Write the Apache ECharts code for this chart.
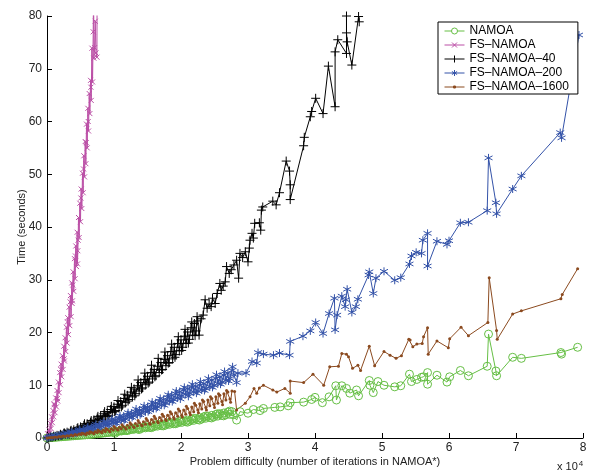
<!DOCTYPE html>
<html><head><meta charset="utf-8">
<script src="https://cdn.jsdelivr.net/npm/echarts@6/dist/echarts.min.js"></script>
<style>html,body{margin:0;padding:0;background:#fff}#c{width:592px;height:471px}</style>
</head><body><div id="c"></div>
<script>
const seriesNames = ['NAMOA', 'FS–NAMOA', 'FS–NAMOA–40', 'FS–NAMOA–200', 'FS–NAMOA–1600'];
const xTicks = [0, 1, 2, 3, 4, 5, 6, 7, 8];
const yTicks = [0, 10, 20, 30, 40, 50, 60, 70, 80];

const namoa = [[0,0],[0.03,0.02],[0.06,0.06],[0.09,0.1],[0.12,0.12],[0.15,0.16],[0.18,0.2],[0.21,0.22],[0.24,0.26],[0.27,0.28],[0.30,0.32],[0.33,0.34],[0.36,0.38],[0.39,0.4],[0.42,0.44],[0.45,0.46],[0.48,0.5],[0.51,0.52],[0.54,0.56],[0.57,0.58],[0.60,0.62],[0.63,0.64],[0.66,0.7],[0.69,0.72],[0.72,0.78],[0.75,0.8],[0.78,0.86],[0.81,0.88],[0.84,0.95],[0.87,0.97],[0.90,1.05],[0.93,1.05],[0.96,1.15],[0.99,1.12],[1.02,1.25],[1.05,1.22],[1.08,1.35],[1.11,1.32],[1.14,1.45],[1.17,1.42],[1.20,1.6],[1.23,1.52],[1.26,1.7],[1.29,1.62],[1.32,1.8],[1.35,1.72],[1.38,1.9],[1.41,1.82],[1.44,2.0],[1.47,1.92],[1.50,2.1],[1.53,2.02],[1.56,2.25],[1.59,2.12],[1.62,2.35],[1.65,2.25],[1.68,2.5],[1.71,2.35],[1.74,2.6],[1.77,2.45],[1.80,2.75],[1.83,2.6],[1.86,2.85],[1.89,2.7],[1.92,3.0],[1.95,2.85],[1.98,3.1],[2.01,2.95],[2.04,3.25],[2.07,3.1],[2.10,3.4],[2.13,3.2],[2.16,3.55],[2.19,3.35],[2.22,3.7],[2.25,3.5],[2.28,3.85],[2.31,3.6],[2.34,4.0],[2.37,3.75],[2.40,4.15],[2.43,3.9],[2.46,4.3],[2.49,4.0],[2.52,4.45],[2.55,4.15],[2.58,4.6],[2.61,4.3],[2.64,4.75],[2.67,4.4],[2.70,4.9],[2.73,4.5],[2.76,5.0],[2.78,4.4],[2.83,3.4],[2.88,5.0],[3.00,4.7],[3.08,5.4],[3.18,5.2],[3.23,5.6],[3.40,5.8],[3.48,5.9],[3.60,6.1],[3.63,6.7],[3.83,6.8],[3.95,7.3],[4.00,7.7],[4.11,6.7],[4.21,7.8],[4.31,9.9],[4.32,7.2],[4.40,9.9],[4.47,9.4],[4.52,8.5],[4.62,9.1],[4.65,8.0],[4.81,10.9],[4.82,10.0],[4.87,8.6],[4.94,10.7],[5.03,10.0],[5.19,9.7],[5.28,9.9],[5.41,12.1],[5.44,10.7],[5.52,11.1],[5.59,11.5],[5.62,11.6],[5.68,12.4],[5.68,10.2],[5.82,11.9],[5.97,10.6],[6.01,11.6],[6.17,12.8],[6.29,11.8],[6.57,13.6],[6.59,19.7],[6.70,12.7],[6.71,11.8],[6.95,15.3],[7.08,15.1],[7.67,16.2],[7.68,15.9],[7.92,17.2]];
const namoaExtra = [[1.015,0.9],[1.105,1.45],[1.195,1.4],[1.285,1.85],[1.375,1.6],[1.465,2.15],[1.555,1.95],[1.645,2.6],[1.735,2.3],[1.825,2.95],[1.915,2.7],[2.005,3.3],[2.095,3.0],[2.185,3.7],[2.275,3.4],[2.365,4.15],[2.455,3.8],[2.545,4.6],[2.635,4.2],[2.725,5.1]];

const fsNamoa = [[0,0],[0.01,0.8],[0.02,0.3],[0.03,1.6],[0.04,1.0],[0.05,2.8],[0.06,1.8],[0.07,4.0],[0.08,2.9],[0.09,5.2],[0.10,4.0],[0.11,6.3],[0.12,4.8],[0.13,7.6],[0.14,5.9],[0.15,9.0],[0.16,7.0],[0.17,10.6],[0.18,8.6],[0.19,12.4],[0.20,10.1],[0.21,14.0],[0.22,11.6],[0.23,15.6],[0.24,13.0],[0.25,17.4],[0.26,14.6],[0.27,19.0],[0.28,16.4],[0.29,21.0],[0.30,18.0],[0.31,22.8],[0.32,19.6],[0.33,24.8],[0.34,21.3],[0.35,27.0],[0.36,23.0],[0.37,29.4],[0.375,25.5],[0.38,26.0],[0.39,31.5],[0.40,27.8],[0.41,34.0],[0.42,30.2],[0.43,36.4],[0.44,32.5],[0.45,39.0],[0.455,33.0],[0.46,35.5],[0.47,41.8],[0.48,38.0],[0.49,44.5],[0.50,41.0],[0.51,47.2],[0.52,43.5],[0.53,50.2],[0.54,46.5],[0.55,53.5],[0.56,49.5],[0.57,56.2],[0.58,52.0],[0.59,59.5],[0.60,55.0],[0.61,62.5],[0.62,58.2],[0.63,65.3],[0.64,61.5],[0.65,67.8],[0.66,64.0],[0.67,73.9],[0.68,67.5],[0.69,77.0],[0.695,88],[0.70,72.0],[0.71,74.0],[0.72,79.0],[0.73,73.0],[0.745,72.2],[0.75,92]];
const fsNamoaExtra = [[0.105,6.5],[0.155,7.5],[0.205,13.0],[0.255,15.0],[0.305,22.0],[0.345,25.8],[0.385,29.0],[0.425,34.5],[0.465,37.5],[0.505,45.5],[0.545,51.0],[0.585,56.0],[0.615,60.0],[0.655,66.5]];

const fsNamoa40 = [[0,0],[0.025,0.05],[0.05,0.2],[0.075,0.15],[0.1,0.35],[0.125,0.3],[0.15,0.5],[0.175,0.4],[0.2,0.7],[0.225,0.55],[0.25,0.9],[0.275,0.75],[0.3,1.1],[0.325,0.95],[0.35,1.3],[0.375,1.15],[0.4,1.55],[0.425,1.3],[0.45,1.8],[0.475,1.55],[0.5,2.1],[0.525,1.8],[0.55,2.4],[0.575,2.05],[0.6,2.7],[0.625,2.35],[0.65,3.0],[0.675,2.6],[0.7,3.4],[0.725,2.95],[0.75,3.8],[0.775,3.25],[0.8,4.2],[0.825,3.6],[0.85,4.6],[0.875,4.0],[0.9,5.0],[0.925,4.3],[0.95,5.4],[0.975,4.8],[1.0,5.9],[1.025,5.2],[1.05,6.4],[1.075,5.7],[1.1,6.9],[1.125,6.2],[1.15,7.5],[1.175,6.7],[1.2,8.1],[1.225,7.3],[1.25,8.7],[1.275,7.8],[1.3,9.3],[1.325,8.4],[1.35,9.9],[1.375,8.9],[1.4,10.5],[1.425,9.5],[1.45,11.1],[1.475,10.1],[1.5,11.7],[1.525,10.6],[1.55,12.4],[1.575,11.2],[1.6,13.0],[1.625,11.8],[1.65,13.6],[1.675,12.4],[1.7,14.3],[1.725,13.0],[1.75,14.9],[1.775,13.7],[1.8,15.6],[1.825,14.3],[1.85,16.4],[1.875,15.0],[1.9,17.2],[1.925,15.8],[1.95,17.9],[1.975,16.5],[2.0,18.6],[2.025,17.2],[2.05,19.3],[2.075,17.9],[2.1,20.1],[2.125,18.7],[2.15,20.9],[2.175,19.5],[2.2,21.7],[2.225,20.3],[2.25,22.2],[2.27,19.5],[2.3,22.6],[2.33,23.3],[2.36,26.2],[2.39,24.6],[2.42,25.4],[2.45,24.9],[2.47,26.5],[2.51,25.5],[2.54,27.4],[2.58,29.3],[2.6,28.0],[2.63,28.8],[2.66,29.6],[2.68,32.5],[2.72,31.2],[2.75,31.9],[2.79,32.8],[2.83,33.7],[2.86,30.3],[2.88,35.0],[2.92,34.2],[2.96,35.3],[3.0,33.4],[3.02,36.0],[3.03,37.5],[3.06,38.8],[3.08,37.9],[3.10,40.7],[3.17,40.8],[3.19,39.4],[3.20,43.2],[3.22,43.8],[3.37,44.9],[3.42,44.2],[3.47,46.5],[3.57,52.5],[3.62,50.6],[3.63,48.0],[3.63,45.2],[3.83,55.4],[3.84,57.0],[3.93,60.9],[3.95,61.9],[4.01,64.4],[4.12,61.5],[4.20,70.5],[4.30,62.8],[4.30,73.2],[4.34,75.5],[4.47,72.9],[4.47,80.0],[4.47,76.8],[4.48,75.1],[4.55,70.7],[4.65,79.9],[4.66,78.9]];
const fsNamoa40Extra = [[0.21,0.5],[0.26,0.95],[0.31,0.8],[0.36,1.45],[0.41,1.2],[0.46,1.95],[0.51,1.6],[0.56,2.7],[0.61,2.2],[0.66,3.3],[0.71,2.7],[0.76,4.1],[0.81,3.4],[0.86,5.0],[0.91,4.1],[0.96,6.0],[1.01,5.0],[1.06,7.1],[1.11,5.9],[1.16,8.3],[1.21,7.0],[1.26,9.6],[1.31,8.0],[1.36,11.0],[1.41,9.3],[1.46,12.3],[1.51,10.4],[1.56,13.8],[1.61,11.6],[1.66,15.1],[1.71,12.9],[1.76,16.3],[1.81,14.2],[1.86,17.8],[1.91,15.3],[1.96,19.2],[2.01,16.6],[2.06,20.6],[2.11,18.0],[2.16,22.0],[2.21,19.4],[2.24,23.0]];

const fsNamoa200 = [[0,0],[0.03,0.1],[0.06,0.25],[0.09,0.2],[0.12,0.4],[0.15,0.35],[0.18,0.55],[0.21,0.45],[0.24,0.7],[0.27,0.6],[0.30,0.85],[0.33,0.75],[0.36,1.0],[0.39,0.9],[0.42,1.2],[0.45,1.05],[0.48,1.4],[0.51,1.2],[0.54,1.6],[0.57,1.4],[0.60,1.8],[0.63,1.6],[0.66,2.0],[0.69,1.8],[0.72,2.3],[0.75,2.0],[0.78,2.5],[0.81,2.2],[0.84,2.8],[0.87,2.4],[0.90,3.0],[0.93,2.6],[0.96,3.3],[0.99,2.8],[1.02,3.5],[1.05,3.1],[1.08,3.8],[1.11,3.3],[1.14,4.1],[1.17,3.6],[1.20,4.4],[1.23,3.9],[1.26,4.7],[1.29,4.2],[1.32,5.0],[1.35,4.4],[1.38,5.3],[1.41,4.7],[1.44,5.6],[1.47,5.0],[1.50,5.9],[1.53,5.3],[1.56,6.3],[1.59,5.6],[1.62,6.6],[1.65,5.9],[1.68,7.0],[1.71,6.3],[1.74,7.3],[1.77,6.6],[1.80,7.7],[1.83,7.0],[1.86,8.1],[1.89,7.3],[1.92,8.4],[1.95,7.6],[1.98,8.8],[2.01,8.0],[2.04,9.1],[2.07,8.3],[2.10,9.4],[2.13,8.5],[2.16,9.6],[2.19,8.7],[2.22,9.8],[2.25,8.9],[2.28,10.0],[2.31,9.1],[2.34,10.3],[2.37,9.4],[2.40,10.6],[2.43,9.7],[2.46,11.0],[2.49,10.0],[2.52,11.3],[2.55,10.3],[2.58,11.6],[2.61,10.6],[2.64,11.9],[2.67,10.9],[2.70,12.3],[2.73,11.3],[2.76,12.8],[2.79,12.0],[2.83,10.5],[2.85,12.3],[2.97,12.3],[3.06,14.5],[3.13,14.2],[3.15,16.2],[3.23,15.9],[3.38,15.7],[3.47,16.1],[3.62,15.7],[3.63,18.3],[3.82,19.3],[3.93,20.3],[4.01,21.9],[4.12,19.8],[4.21,23.6],[4.29,26.5],[4.30,20.5],[4.33,23.3],[4.40,26.9],[4.45,24.9],[4.46,26.2],[4.48,28.2],[4.55,23.8],[4.61,24.9],[4.64,26.3],[4.80,30.9],[4.81,31.5],[4.87,27.4],[4.91,30.3],[5.03,31.6],[5.19,29.9],[5.28,30.4],[5.41,33.0],[5.44,34.5],[5.51,35.2],[5.59,35.0],[5.61,37.5],[5.68,38.8],[5.68,32.6],[5.82,37.3],[5.97,36.7],[6.00,37.4],[6.17,40.8],[6.29,40.9],[6.57,43.1],[6.59,53.1],[6.70,44.6],[6.71,42.5],[6.95,47.2],[7.08,49.7],[7.66,57.9],[7.68,56.9],[7.94,76.4]];
const fsNamoa200Extra = [[0.31,0.6],[0.37,1.15],[0.43,0.9],[0.49,1.6],[0.55,1.2],[0.61,2.1],[0.67,1.6],[0.73,2.6],[0.79,2.0],[0.85,3.1],[0.91,2.4],[0.97,3.6],[1.03,2.8],[1.09,4.2],[1.15,3.3],[1.21,4.8],[1.27,3.9],[1.33,5.5],[1.39,4.4],[1.45,6.1],[1.51,5.0],[1.57,6.8],[1.63,5.6],[1.69,7.5],[1.75,6.2],[1.81,8.2],[1.87,6.9],[1.93,8.9],[1.99,7.4],[2.05,9.6],[2.11,7.9],[2.17,10.2],[2.23,8.5],[2.29,10.7],[2.35,9.0],[2.41,11.3],[2.47,9.6],[2.53,12.0],[2.59,10.2],[2.65,12.6],[2.71,10.8],[2.77,13.5]];

const fsNamoa1600 = [[0,0],[0.03,0.05],[0.06,0.1],[0.09,0.1],[0.12,0.2],[0.15,0.15],[0.18,0.3],[0.21,0.25],[0.24,0.4],[0.27,0.3],[0.30,0.45],[0.33,0.4],[0.36,0.55],[0.39,0.45],[0.42,0.65],[0.45,0.55],[0.48,0.75],[0.51,0.65],[0.54,0.85],[0.57,0.75],[0.60,0.95],[0.63,0.85],[0.66,1.1],[0.69,0.95],[0.72,1.2],[0.75,1.05],[0.78,1.3],[0.81,1.15],[0.84,1.45],[0.87,1.25],[0.90,1.6],[0.93,1.35],[0.96,1.75],[0.99,1.5],[1.02,1.9],[1.05,1.6],[1.08,2.05],[1.11,1.75],[1.14,2.2],[1.17,1.9],[1.20,2.4],[1.23,2.0],[1.26,2.55],[1.29,2.15],[1.32,2.75],[1.35,2.3],[1.38,2.9],[1.41,2.45],[1.44,3.1],[1.47,2.6],[1.50,3.3],[1.53,2.8],[1.56,3.5],[1.59,3.0],[1.62,3.7],[1.65,3.15],[1.68,3.9],[1.71,3.3],[1.74,4.1],[1.77,3.5],[1.80,4.3],[1.83,3.7],[1.86,4.6],[1.89,3.9],[1.92,4.8],[1.95,4.1],[1.98,5.1],[2.01,4.3],[2.04,5.3],[2.07,4.5],[2.10,5.6],[2.13,4.8],[2.16,5.9],[2.19,5.0],[2.22,6.2],[2.25,5.3],[2.28,6.5],[2.31,5.5],[2.34,6.9],[2.37,5.8],[2.40,7.2],[2.43,6.1],[2.46,7.5],[2.49,6.4],[2.52,7.8],[2.55,6.6],[2.58,8.1],[2.61,6.9],[2.64,8.4],[2.67,7.2],[2.70,8.7],[2.73,7.4],[2.76,8.9],[2.80,8.8],[2.83,5.3],[2.96,6.6],[3.03,7.8],[3.09,9.4],[3.13,8.5],[3.17,9.5],[3.23,10.0],[3.37,9.1],[3.43,8.7],[3.55,9.4],[3.63,8.5],[3.63,10.8],[3.83,10.5],[3.97,12.1],[4.13,10.0],[4.22,13.5],[4.35,13.6],[4.40,16.0],[4.47,15.9],[4.50,15.4],[4.56,13.2],[4.64,13.8],[4.68,12.8],[4.81,17.4],[4.89,13.7],[5.03,16.4],[5.12,15.7],[5.21,15.1],[5.29,15.6],[5.40,18.7],[5.42,18.6],[5.46,17.3],[5.52,17.8],[5.60,17.9],[5.62,19.2],[5.68,20.9],[5.69,15.9],[5.82,18.4],[5.99,17.1],[6.01,18.8],[6.18,21.0],[6.29,19.4],[6.58,21.9],[6.60,30.4],[6.71,20.4],[6.72,18.7],[6.95,23.5],[7.08,24.1],[7.67,26.4],[7.69,27.2],[7.92,32.1]];
const fsNamoa1600Extra = [[0.52,0.9],[0.58,0.6],[0.64,1.2],[0.70,0.8],[0.76,1.5],[0.82,1.0],[0.88,1.8],[0.94,1.2],[1.00,2.2],[1.06,1.5],[1.12,2.5],[1.18,1.7],[1.24,2.9],[1.30,2.0],[1.36,3.3],[1.42,2.3],[1.48,3.7],[1.54,2.6],[1.60,4.1],[1.66,2.9],[1.72,4.5],[1.78,3.3],[1.84,5.0],[1.90,3.6],[1.96,5.5],[2.02,4.0],[2.08,6.0],[2.14,4.4],[2.20,6.6],[2.26,4.8],[2.32,7.2],[2.38,5.3],[2.44,7.8],[2.50,5.8],[2.56,8.4],[2.62,6.3],[2.68,9.0],[2.74,6.8]];

function merged(base, extra) {
  return base.concat(extra).map((p, i) => [p[0], p[1], i])
    .sort((a, b) => a[0] - b[0] || a[2] - b[2]).map(p => [p[0], p[1]]);
}

const FONT = '"Liberation Sans", Arial, Helvetica, sans-serif';
const colors = ['#66bf45', '#bb4fa6', '#000000', '#3352a8', '#8b4a1f'];
const symPlus = 'path://M0,-1L0,1M-1,0L1,0';
const symCross = 'path://M-1,-1L1,1M-1,1L1,-1';
const symStar = 'path://M0,-1L0,1M-0.87,-0.5L0.87,0.5M-0.87,0.5L0.87,-0.5';
const symCircle = 'path://M1,0A1,1 0 1,1 -1,0A1,1 0 1,1 1,0Z';

const legendIcons = [
  'path://M0,-3.5M0,3.5M-10,0L-3,0M3,0L10,0M3,0A3,3 0 1,1 -3,0A3,3 0 1,1 3,0',
  'path://M0,-3.5M0,3.5M-10,0L10,0M-2.5,-2.5L2.5,2.5M-2.5,2.5L2.5,-2.5',
  'path://M0,-3.5M0,3.5M-10,0L10,0M0,-3.5L0,3.5',
  'path://M0,-3.5M0,3.5M-10,0L10,0M0,-3L0,3M-2.6,-1.5L2.6,1.5M-2.6,1.5L2.6,-1.5',
  'path://M0,-3.5M0,3.5M-10,0L10,0M-1,-1L1,-1L1,1L-1,1Z'
];

function mk(i, data, symbol, size, filled) {
  return {
    name: seriesNames[i], type: 'line', data: data,
    symbol: symbol, symbolSize: size, showSymbol: true,
    clip: true,
    lineStyle: { color: colors[i], width: 1 },
    itemStyle: filled ? { color: colors[i], borderWidth: 0 } :
      { color: 'rgba(0,0,0,0)', borderColor: colors[i], borderWidth: 1 },
    emphasis: { disabled: true },
    animation: false
  };
}

const chart = echarts.init(document.getElementById('c'), null, { renderer: 'canvas' });
chart.setOption({
  backgroundColor: '#fff',
  animation: false,
  textStyle: { fontFamily: FONT },
  grid: { left: 47, right: 9, top: 16, bottom: 33, containLabel: false, outerBoundsMode: 'none' },
  legend: {
    orient: 'vertical', left: 438, top: 22,
    padding: [3, 9, 1, 6], itemGap: 2, itemWidth: 20, itemHeight: 7,
    borderColor: '#000', borderWidth: 1, backgroundColor: '#fff',
    textStyle: { fontFamily: FONT, fontSize: 12, color: '#000', lineHeight: 12 },
    data: seriesNames.map((n, i) => ({
      name: n, icon: legendIcons[i],
      itemStyle: { color: i === 4 ? colors[i] : 'rgba(0,0,0,0)', borderColor: colors[i], borderWidth: 1 }
    }))
  },
  xAxis: {
    type: 'value', min: xTicks[0], max: xTicks[xTicks.length - 1], interval: 1,
    name: 'Problem difficulty (number of iterations in NAMOA*)',
    nameLocation: 'middle', nameGap: 18, nameMoveOverlap: false,
    nameTextStyle: { fontFamily: FONT, fontSize: 11, color: '#222' },
    axisLine: { lineStyle: { color: '#000', width: 1 } },
    axisTick: { inside: true, length: 5, lineStyle: { color: '#000' } },
    axisLabel: { margin: 4, fontSize: 12, color: '#222', fontFamily: FONT },
    splitLine: { show: false }
  },
  yAxis: {
    type: 'value', min: yTicks[0], max: yTicks[yTicks.length - 1], interval: 10,
    name: 'Time (seconds)', nameLocation: 'middle', nameGap: 20, nameMoveOverlap: false,
    nameTextStyle: { fontFamily: FONT, fontSize: 11, color: '#222' },
    axisLine: { show: true, lineStyle: { color: '#000', width: 1 } },
    axisTick: { show: true, inside: true, length: 5, lineStyle: { color: '#000' } },
    axisLabel: { margin: 5, fontSize: 12, color: '#222', fontFamily: FONT },
    splitLine: { show: false }
  },
  graphic: [{
    type: 'text', left: 557, top: 460,
    style: {
      text: '{a|x 10}{b|4}', fontFamily: FONT,
      rich: { a: { fontSize: 11, fill: '#222', fontFamily: FONT },
              b: { fontSize: 8, fill: '#222', fontFamily: FONT, verticalAlign: 'top', padding: [0, 0, 6, 1] } }
    }
  }],
  series: [
    mk(0, merged(namoa, namoaExtra), symCircle, 8, false),
    mk(1, merged(fsNamoa, fsNamoaExtra), symCross, 5, false),
    mk(2, merged(fsNamoa40, fsNamoa40Extra), symPlus, 9, false),
    mk(3, merged(fsNamoa200, fsNamoa200Extra), symStar, 8, false),
    mk(4, merged(fsNamoa1600, fsNamoa1600Extra), 'circle', 3, true)
  ]
});
</script>
</body></html>
